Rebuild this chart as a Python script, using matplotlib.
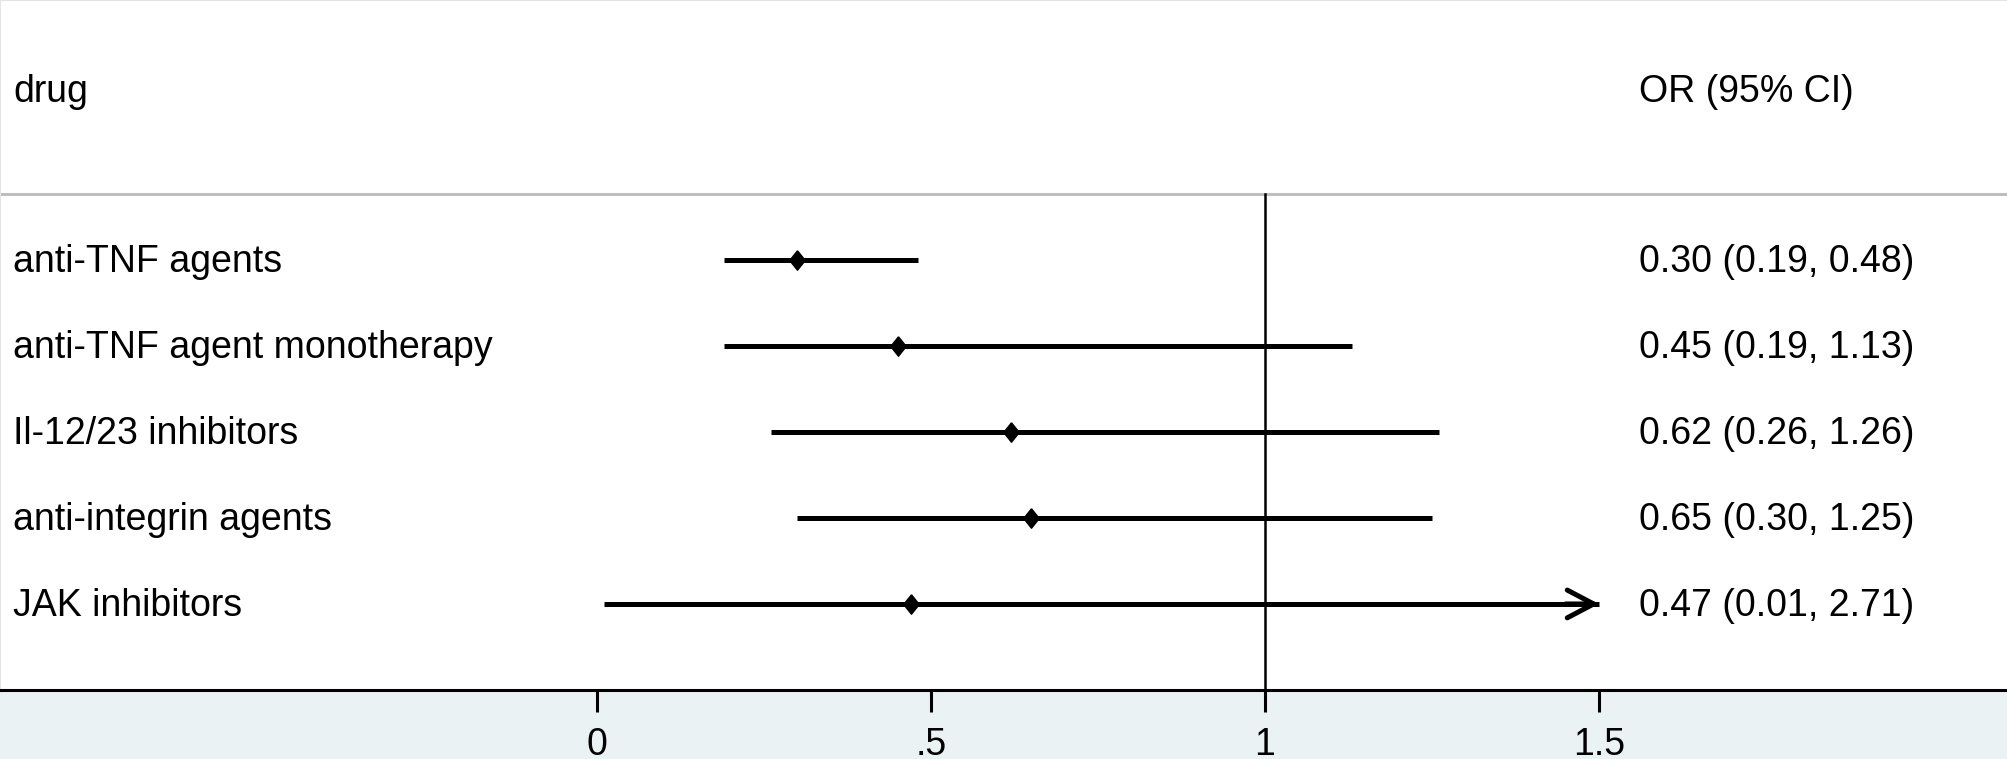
import numpy as np
import matplotlib
matplotlib.use("Agg")
import matplotlib.pyplot as plt
import matplotlib.transforms as mtransforms

plt.rcParams['font.family'] = ['Liberation Sans', 'DejaVu Sans']

# data
drugs = ['anti-TNF agents', 'anti-TNF agent monotherapy', 'Il-12/23 inhibitors',
         'anti-integrin agents', 'JAK inhibitors']
odds = [0.30, 0.45, 0.62, 0.65, 0.47]
ci_lo = [0.19, 0.19, 0.26, 0.30, 0.01]
ci_hi = [0.48, 1.13, 1.26, 1.25, 2.71]
x_ticks = [0, 0.5, 1, 1.5]
x_ticklabels = ['0', '.5', '1', '1.5']

x_max = 1.5  # anything beyond gets an arrow
rows = np.arange(len(drugs))
odds = np.array(odds)
ci_lo = np.array(ci_lo)
ci_hi = np.array(ci_hi)
hi_clip = np.minimum(ci_hi, x_max)

fig = plt.figure(figsize=(20.08, 7.59), dpi=100)
fig.patch.set_facecolor('#EAF2F3')

ax = fig.add_axes([0, 69 / 759, 1, 690 / 759])
ax.set_facecolor('white')
ax.set_xlim(-597 / 668, (2008 - 597) / 668)
ax.set_ylim(5.0, -3.02)

# header separator and null line
head_y = -0.77
ax.axhline(head_y, color='#BEBEBE', lw=2.2, zorder=1)
ax.plot([1, 1], [head_y, 5.0], color='black', lw=1.8, zorder=2)

# CI lines, arrows where they run off the scale
ax.hlines(rows, ci_lo, hi_clip, color='black', lw=3.6, zorder=3)
for r, h in zip(rows, ci_hi):
    if h > x_max:
        ax.annotate('', xy=(x_max, r), xytext=(x_max - 0.05, r),
                    arrowprops=dict(arrowstyle='->,head_length=0.95,head_width=0.5',
                                    mutation_scale=20, lw=3.6, color='black',
                                    shrinkA=0, shrinkB=0), zorder=3)
# slightly tall diamond, like the stata one
diamond = [(0, 1), (0.8, 0), (0, -1), (-0.8, 0), (0, 1)]
ax.plot(odds, rows, linestyle='none', marker=diamond, markersize=14,
        color='black', zorder=4)

# text columns
fs = 27
down = mtransforms.offset_copy(ax.transData, fig=fig, x=0, y=-12.5, units='dots')
left_tr = mtransforms.blended_transform_factory(ax.transAxes, down)
head_tr = mtransforms.blended_transform_factory(ax.transAxes, ax.transData)
ax.text(13 / 2008, -1.84, 'drug', transform=head_tr, fontsize=fs, va='baseline', ha='left')
ax.text(1639 / 2008, -1.84, 'OR (95% CI)', transform=head_tr, fontsize=fs, va='baseline', ha='left')
for r, name, o, lo, hi in zip(rows, drugs, odds, ci_lo, ci_hi):
    ax.text(13 / 2008, r, name, transform=left_tr, fontsize=fs, va='baseline', ha='left')
    ax.text(1639 / 2008, r, f'{o:.2f} ({lo:.2f}, {hi:.2f})', transform=left_tr,
            fontsize=fs, va='baseline', ha='left')

ax.spines['right'].set_visible(False)
ax.spines['left'].set_color('#E4E4E4')
ax.spines['left'].set_linewidth(1.5)
ax.spines['top'].set_color('#E4E4E4')
ax.spines['top'].set_linewidth(1.5)
ax.spines['bottom'].set_linewidth(2.2)
ax.spines['bottom'].set_color('black')
ax.set_yticks([])
ax.set_xticks(x_ticks)
ax.set_xticklabels(x_ticklabels)
ax.tick_params(axis='x', direction='out', length=15.8, width=2.2, pad=11, labelsize=fs)

fig.savefig('out.png', dpi=100, facecolor=fig.get_facecolor())
